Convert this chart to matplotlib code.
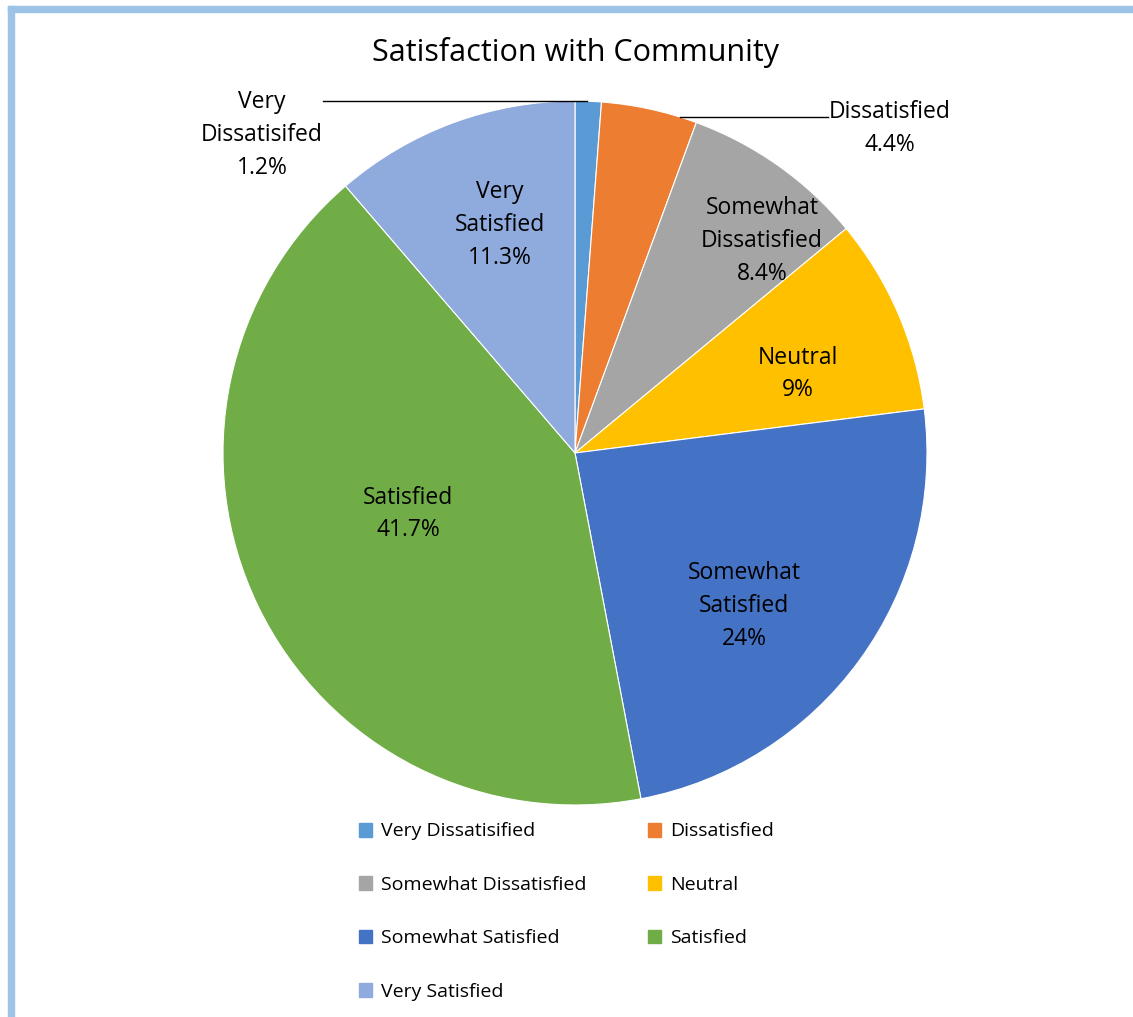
import matplotlib.pyplot as plt
from matplotlib.patches import Patch, Rectangle
from matplotlib.lines import Line2D

plt.rcParams['font.family'] = ['Open Sans', 'DejaVu Sans']

# satisfaction survey shares, clockwise from 12 o'clock
categories = ['Very Dissatisified', 'Dissatisfied', 'Somewhat Dissatisfied', 'Neutral',
              'Somewhat Satisfied', 'Satisfied', 'Very Satisfied']
shares = [1.2, 4.4, 8.4, 9, 24, 41.7, 11.3]
slice_labels = ['Very\nDissatisifed', 'Dissatisfied', 'Somewhat\nDissatisfied', 'Neutral',
                'Somewhat\nSatisfied', 'Satisfied', 'Very\nSatisfied']
colors = ['#5B9BD5', '#ED7D31', '#A5A5A5', '#FFC000', '#4472C4', '#70AD47', '#8FAADC']

W, H = 1133, 1017
fig = plt.figure(figsize=(W / 100, H / 100), dpi=100)

# light blue frame on top and left
fig.patches.append(Rectangle((8 / W, 0), 6 / W, (H - 6) / H, transform=fig.transFigure,
                             color='#9DC3E6', zorder=0))
fig.patches.append(Rectangle((8 / W, (H - 12) / H), (W - 8) / W, 6 / H, transform=fig.transFigure,
                             color='#9DC3E6', zorder=0))

cx, cy, r = 575, 453, 352
ax = fig.add_axes([(cx - r) / W, (H - cy - r) / H, 2 * r / W, 2 * r / H])
wedges, _ = ax.pie(shares, colors=colors, startangle=90, counterclock=False,
                   wedgeprops=dict(edgecolor='white', linewidth=0.8))
ax.set_xlim(-1, 1)
ax.set_ylim(-1, 1)
ax.set_aspect('equal')
ax.axis('off')


def px(x, y):
    return (x - cx) / r, (cy - y) / r


def fmt(v):
    return ('%g' % v) + '%'


# label centres in pixel space
label_pos = [(262, 135), (890, 128), (762, 241), (798, 374), (744, 606), (408, 514), (500, 225)]
for lab, v, (x, y) in zip(slice_labels, shares, label_pos):
    ax.text(*px(x, y), lab + '\n' + fmt(v), ha='center', va='center', fontsize=16.5,
            linespacing=1.5, color='black')

# leader lines for the two thin slices
for x0, x1, y in [(323, 587, 101), (680, 828, 117)]:
    ax.add_line(Line2D([px(x0, y)[0], px(x1, y)[0]], [px(x0, y)[1]] * 2, color='black',
                       linewidth=1, clip_on=False))

fig.text(575 / W, 1 - 53 / H, 'Satisfaction with Community', ha='center', va='center',
         fontsize=22)

# legend filled row by row (two columns)
handles = [Patch(color=c) for c in colors]
order = [0, 2, 4, 6, 1, 3, 5]
fig.legend([handles[i] for i in order], [categories[i] for i in order], ncol=2,
           loc='upper left', bbox_to_anchor=(341 / W, 1 - 805 / H), frameon=False,
           fontsize=14, handlelength=0.7, handleheight=0.7, handletextpad=0.45,
           labelspacing=1.82, columnspacing=3.15)

fig.savefig('out.png', dpi=100)
